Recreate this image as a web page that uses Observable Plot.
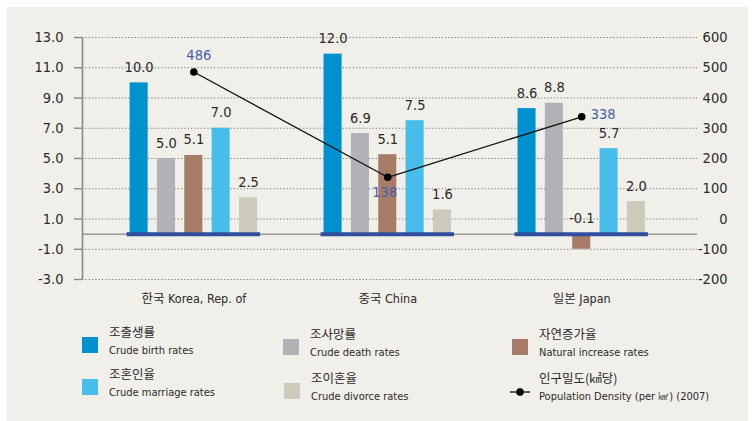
<!DOCTYPE html>
<html>
<head>
<meta charset="utf-8">
<script src="https://cdn.jsdelivr.net/npm/d3@7"></script>
<script src="https://cdn.jsdelivr.net/npm/@observablehq/plot@0.6"></script>
<style>
  body { margin: 0; background: #fff; }
  #wrap { position: relative; width: 753px; height: 421px; overflow: hidden; }
  #panel { position: absolute; left: 7px; top: 7px; width: 741px; height: 414px; background: #f0efe9; }
  #chart { position: absolute; left: 0; top: 0; }
  .sw { position: absolute; width: 16px; height: 16px; }
  .ko { position: absolute; font-family: "Noto Sans CJK KR", sans-serif; font-size: 12.5px; line-height: 1; color: #2b2b2b; white-space: nowrap; }
  .en { position: absolute; font-family: "DejaVu Sans Condensed", "Liberation Sans Narrow", sans-serif; font-size: 11px; line-height: 1; color: #2b2b2b; white-space: nowrap; }
</style>
</head>
<body>
<div id="wrap">
  <div id="panel"></div>
  <div id="chart"></div>
  <div id="legend"></div>
</div>
<script>
// ---------- data ----------
const groups = ["한국 Korea, Rep. of", "중국 China", "일본 Japan"];
const seriesKo = ["조출생률", "조사망률", "자연증가율", "조혼인율", "조이혼율"];
const seriesEn = ["Crude birth rates", "Crude death rates", "Natural increase rates", "Crude marriage rates", "Crude divorce rates"];
const seriesColors = ["#0091cf", "#b1b2b6", "#a67b67", "#47bde9", "#cccbbb"];

// bar heights as drawn in the picture (per group: Korea, China, Japan)
const birthRates = [10.0, 11.9, 8.3];
const deathRates = [5.0, 6.65, 8.65];
const naturalIncrease = [5.2, 5.25, -1.0];
const marriageRates = [7.0, 7.5, 5.65];
const divorceRates = [2.4, 1.6, 2.15];

// printed value labels
const birthLabels = ["10.0", "12.0", "8.6"];
const deathLabels = ["5.0", "6.9", "8.8"];
const naturalLabels = ["5.1", "5.1", "-0.1"];
const marriageLabels = ["7.0", "7.5", "5.7"];
const divorceLabels = ["2.5", "1.6", "2.0"];

// population density (per km²), 2007
const density = [486, 138, 338];
const densityKo = "인구밀도(㎢당)";
const densityEn = "Population Density (per ㎢) (2007)";

const leftTicks = [-3, -1, 1, 3, 5, 7, 9, 11, 13];
const rightTicks = [-200, -100, 0, 100, 200, 300, 400, 500, 600];

// ---------- build ----------
const seriesValues = [birthRates, deathRates, naturalIncrease, marriageRates, divorceRates];
const seriesLabels = [birthLabels, deathLabels, naturalLabels, marriageLabels, divorceLabels];
const rows = groups.flatMap((g, gi) => seriesEn.map((s, si) => ({
  gi, si, series: s, value: seriesValues[si][gi], label: seriesLabels[si][gi]
})));
const rightToLeft = r => 1 + r / 50;   // right axis -> left axis units
const densityRows = density.map((v, i) => ({gi: i, v}));

const barStep = 0.141, barHalf = 0.0465, bandHalf = 0.344;
const xDomain = [-0.574, 2.597];
const numFont = "'DejaVu Sans Condensed', 'Liberation Sans Narrow', sans-serif";
const numSize = 14.5;
const textColor = "#2b2b2b";

const chart = Plot.plot({
  width: 753,
  height: 320,
  marginLeft: 82,
  marginRight: 56,
  marginTop: 37,
  marginBottom: 41,
  style: {background: "transparent", fontFamily: numFont, fontSize: numSize + "px", color: textColor},
  x: {type: "linear", domain: xDomain, axis: null},
  y: {domain: [-3, 13], axis: null},
  color: {domain: seriesEn, range: seriesColors},
  marks: [
    Plot.gridY({ticks: leftTicks, stroke: "#7d7d7d", strokeOpacity: 1, strokeWidth: 1.2, strokeDasharray: "1.3,2"}),
    Plot.ruleY([0], {stroke: "#9a9a9a", strokeWidth: 1.5}),
    Plot.ruleX([xDomain[0]], {y1: -3, y2: 13, stroke: "#8a8a8a", strokeWidth: 1.6}),
    Plot.rectY(rows, {
      x1: d => d.gi + (d.si - 2) * barStep - barHalf,
      x2: d => d.gi + (d.si - 2) * barStep + barHalf,
      y1: 0, y2: "value", fill: "series"
    }),
    Plot.ruleY(groups.map((g, i) => i), {
      y: () => 0, x1: i => i - bandHalf, x2: i => i + bandHalf,
      stroke: "#2f4e9d", strokeWidth: 4
    }),
    Plot.line(densityRows, {x: "gi", y: d => rightToLeft(d.v), stroke: "#111", strokeWidth: 1.3}),
    Plot.dot(densityRows, {x: "gi", y: d => rightToLeft(d.v), r: 3.8, fill: "#000"}),
    Plot.text(rows, {
      x: d => d.gi + (d.si - 2) * barStep,
      y: d => Math.max(d.value, 0), text: "label",
      lineAnchor: "bottom", dy: -11, fill: textColor, fontSize: numSize
    }),
    Plot.text(densityRows.filter(d => d.gi === 0), {x: "gi", y: d => rightToLeft(d.v), text: d => String(d.v), lineAnchor: "bottom", dx: 5, dy: -12, fill: "#4660a8", fontSize: numSize}),
    Plot.text(densityRows.filter(d => d.gi === 1), {x: "gi", y: d => rightToLeft(d.v), text: d => String(d.v), lineAnchor: "bottom", dx: -3, dy: 20, fill: "#4660a8", fontSize: numSize}),
    Plot.text(densityRows.filter(d => d.gi === 2), {x: "gi", y: d => rightToLeft(d.v), text: d => String(d.v), lineAnchor: "bottom", textAnchor: "start", dx: 9, dy: 2, fill: "#4660a8", fontSize: numSize}),
    Plot.axisY({anchor: "left", label: null, ticks: leftTicks, tickFormat: d => d.toFixed(1), tickSize: 8, tickPadding: 11, stroke: "#8a8a8a", strokeWidth: 1.4, fill: textColor}),
    Plot.axisY({anchor: "right", label: null, ticks: rightTicks.map(rightToLeft), tickFormat: d => String(Math.round((d - 1) * 50)), tickSize: 0, tickPadding: 30, textAnchor: "end", fill: textColor}),
    Plot.axisX({label: null, ticks: [0, 1, 2], tickFormat: i => groups[i], tickSize: 0, tickPadding: 15, fontSize: 12.5, fill: textColor,
      fontFamily: "'DejaVu Sans Condensed', 'Noto Sans CJK KR', sans-serif"})
  ]
});
document.getElementById("chart").appendChild(chart);

// ---------- legend (HTML, below the plot) ----------
const legendItems = [
  {ko: seriesKo[0], en: seriesEn[0], color: seriesColors[0], left: 82, top: 337},
  {ko: seriesKo[1], en: seriesEn[1], color: seriesColors[1], left: 283, top: 339},
  {ko: seriesKo[2], en: seriesEn[2], color: seriesColors[2], left: 512, top: 339},
  {ko: seriesKo[3], en: seriesEn[3], color: seriesColors[3], left: 82, top: 379},
  {ko: seriesKo[4], en: seriesEn[4], color: seriesColors[4], left: 284, top: 383},
  {ko: densityKo, en: densityEn, color: null, left: 512, top: 383}
];
const legend = document.getElementById("legend");
for (const it of legendItems) {
  if (it.color) {
    const sw = document.createElement("div");
    sw.className = "sw";
    sw.style.left = it.left + "px";
    sw.style.top = it.top + "px";
    sw.style.background = it.color;
    legend.appendChild(sw);
  } else {
    const ns = "http://www.w3.org/2000/svg";
    const svg = document.createElementNS(ns, "svg");
    svg.setAttribute("width", 24); svg.setAttribute("height", 12);
    svg.style.position = "absolute";
    svg.style.left = (it.left - 3) + "px";
    svg.style.top = (it.top + 2.7) + "px";
    const ln = document.createElementNS(ns, "line");
    ln.setAttribute("x1", 1); ln.setAttribute("x2", 21); ln.setAttribute("y1", 6); ln.setAttribute("y2", 6);
    ln.setAttribute("stroke", "#111"); ln.setAttribute("stroke-width", 1.3);
    const c = document.createElementNS(ns, "circle");
    c.setAttribute("cx", 11); c.setAttribute("cy", 6); c.setAttribute("r", 3.8); c.setAttribute("fill", "#000");
    svg.appendChild(ln); svg.appendChild(c);
    legend.appendChild(svg);
  }
  const ko = document.createElement("div");
  ko.className = "ko";
  ko.textContent = it.ko;
  ko.style.left = (it.left + 27) + "px";
  ko.style.top = (it.top - 11) + "px";
  legend.appendChild(ko);
  const en = document.createElement("div");
  en.className = "en";
  en.textContent = it.en;
  en.style.left = (it.left + 27) + "px";
  en.style.top = (it.top + 8) + "px";
  legend.appendChild(en);
}
</script>
</body>
</html>
